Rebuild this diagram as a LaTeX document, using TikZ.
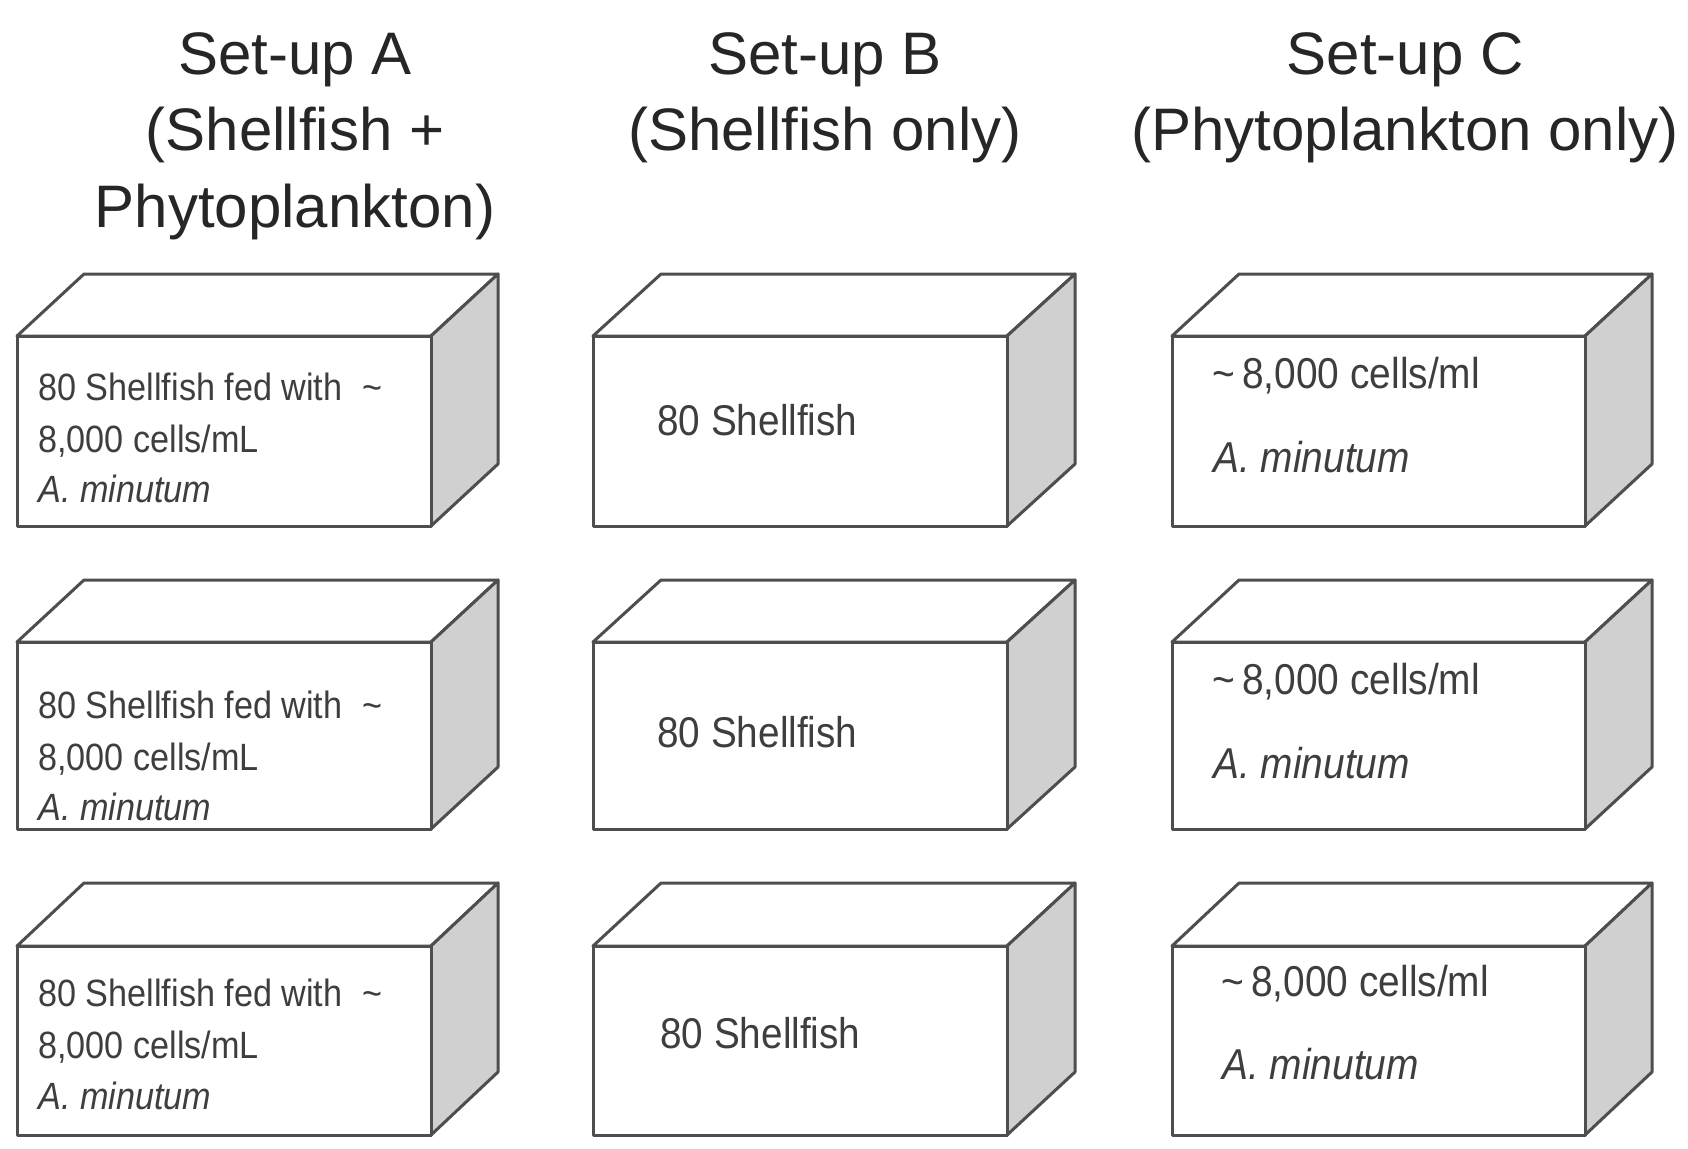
\documentclass[tikz,border=0pt]{standalone}
\usepackage{fontspec}
\setmainfont{Liberation Sans}
\newfontfamily\condfont[FakeStretch=0.9]{Liberation Sans}
\definecolor{boxline}{RGB}{78,78,78}
\definecolor{sidegray}{RGB}{208,208,208}
\definecolor{titlecol}{RGB}{38,38,38}
\definecolor{txtcol}{RGB}{62,62,62}
\tikzset{
  edge/.style={draw=boxline, line width=1.5pt, line join=round},
  titletext/.style={font=\fontsize{30}{38}\selectfont, text=titlecol, anchor=base, inner sep=0pt},
  atext/.style={font=\condfont\fontsize{19}{23}\selectfont, text=txtcol, anchor=base west, inner sep=0pt},
  btext/.style={font=\condfont\fontsize{21.5}{26}\selectfont, text=txtcol, anchor=base west, inner sep=0pt},
  ctext/.style={font=\condfont\fontsize{21.6}{26}\selectfont, text=txtcol, anchor=base west, inner sep=0pt},
}
% #1 x-left, #2 x-right, #3 y-top, #4 y-bottom, #5 depth dx, #6 depth dy
\newcommand\tankbox[6]{%
  \draw[edge, fill=white] (#1,#3) -- (#1+#5,#3-#6) -- (#2+#5,#3-#6) -- (#2,#3) -- cycle;
  \draw[edge, fill=sidegray] (#2,#3) -- (#2+#5,#3-#6) -- (#2+#5,#4-#6) -- (#2,#4) -- cycle;
  \draw[edge, fill=white] (#1,#3) rectangle (#2,#4);
}
\begin{document}
\begin{tikzpicture}[x=0.5pt, y=-0.5pt]
\fill[white] (0,0) rectangle (1688,1148);
\useasboundingbox (0,0) rectangle (1688,1148);

% titles
\node[titletext] (tA1) at (295,74) {Set-up A};
\node[titletext] (tA2) at (295,150) {(Shellfish +};
\node[titletext] (tA3) at (295,227) {Phytoplankton)};
\node[titletext] (tB1) at (825,74) {Set-up B};
\node[titletext] (tB2) at (825,150) {(Shellfish only)};
\node[titletext] (tC1) at (1405,74) {Set-up C};
\node[titletext] (tC2) at (1405,150) {(Phytoplankton only)};

% column A
\tankbox{17}{431}{336}{526}{67}{62}
\tankbox{17}{431}{642}{829}{67}{62}
\tankbox{17}{431}{946}{1135}{67}{63}
% column B
\tankbox{593}{1007}{336}{526}{68}{62}
\tankbox{593}{1007}{642}{829}{68}{62}
\tankbox{593}{1007}{946}{1135}{68}{63}
% column C
\tankbox{1172}{1585}{336}{526}{67}{62}
\tankbox{1172}{1585}{642}{829}{67}{62}
\tankbox{1172}{1585}{946}{1135}{67}{63}

% texts column A
\node[atext] (a11) at (38,400) {80 Shellfish fed with\hspace{10pt}\textasciitilde};
\node[atext] (a12) at (38,452) {8,000 cells/mL};
\node[atext] (a13) at (38,502) {\itshape A. minutum};
\node[atext] (a21) at (38,718) {80 Shellfish fed with\hspace{10pt}\textasciitilde};
\node[atext] (a22) at (38,770) {8,000 cells/mL};
\node[atext] (a23) at (38,820) {\itshape A. minutum};
\node[atext] (a31) at (38,1006) {80 Shellfish fed with\hspace{10pt}\textasciitilde};
\node[atext] (a32) at (38,1058) {8,000 cells/mL};
\node[atext] (a33) at (38,1109) {\itshape A. minutum};

% texts column B
\node[btext] (b1) at (657,435) {80 Shellfish};
\node[btext] (b2) at (657,747) {80 Shellfish};
\node[btext] (b3) at (660,1048) {80 Shellfish};

% texts column C
\node[ctext] (c11) at (1212,388) {\textasciitilde\,8,000 cells/ml};
\node[ctext] (c12) at (1213,472) {\itshape A. minutum};
\node[ctext] (c21) at (1212,694) {\textasciitilde\,8,000 cells/ml};
\node[ctext] (c22) at (1213,778) {\itshape A. minutum};
\node[ctext] (c31) at (1221,996) {\textasciitilde\,8,000 cells/ml};
\node[ctext] (c32) at (1222,1079) {\itshape A. minutum};
\end{tikzpicture}
\end{document}
